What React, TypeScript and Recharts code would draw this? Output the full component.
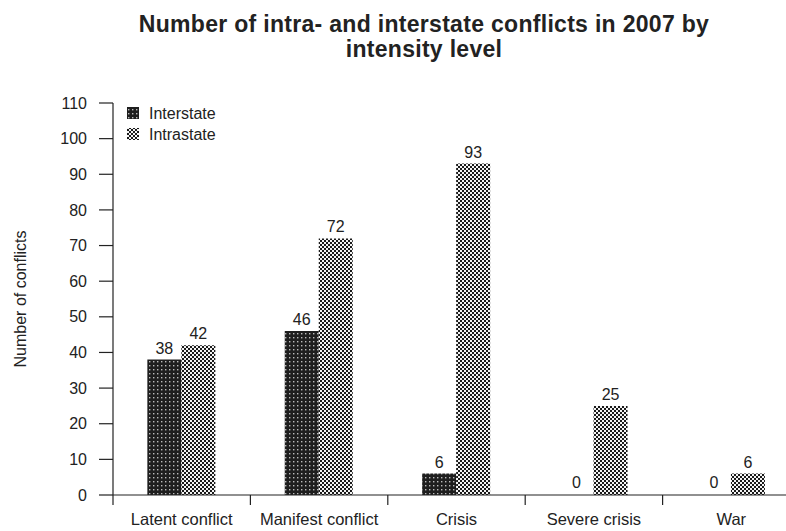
import { BarChart, Bar, XAxis, YAxis, LabelList, Label, Rectangle } from "recharts";

// ─── Data ────────────────────────────────────────

const intensityLevels = ["Latent conflict", "Manifest conflict", "Crisis", "Severe crisis", "War"];
const interstate = [38, 46, 6, 0, 0];
const intrastate = [42, 72, 93, 25, 6];
const yTicks = [0, 10, 20, 30, 40, 50, 60, 70, 80, 90, 100, 110];

const chartData = intensityLevels.map((level, i) => ({
  level,
  interstate: interstate[i],
  intrastate: intrastate[i],
}));

const FONT = "'Liberation Sans', Arial, sans-serif";
const INK = "#222";

// ─── Category tick: label centred, tick mark on the band's left edge ───

function CategoryTick(props: any) {
  const { x, y, payload } = props;
  const half = payload?.offset ?? 68.7;
  return (
    <g>
      <line x1={x - half} x2={x - half} y1={y - 18} y2={y - 8} stroke={INK} strokeWidth={1.2} />
      <text x={x} y={y} dy="0.71em" textAnchor="middle" fontSize={16.5} fill={INK} fontFamily={FONT}>
        {payload.value}
      </text>
    </g>
  );
}

// zero-valued bars keep a 1px slot so their "0" label still shows, but draw nothing
function PatternBar(props: any) {
  if (props.value === 0 || (Array.isArray(props.value) && props.value[1] === 0)) return null;
  return <Rectangle {...props} />;
}

// ─── Legend with pattern swatches ────────────────

function PatternLegend() {
  const items = [
    { label: "Interstate", fill: "url(#interPattern)" },
    { label: "Intrastate", fill: "url(#intraPattern)" },
  ];
  return (
    <svg width={120} height={48} style={{ position: "absolute", left: 127, top: 104 }}>
      {items.map((it, i) => (
        <g key={it.label} transform={`translate(0, ${i * 21})`}>
          <rect x={0} y={3} width={12} height={12} fill={it.fill} />
          <text x={22} y={15} fontSize={16} fill={INK} fontFamily={FONT}>
            {it.label}
          </text>
        </g>
      ))}
    </svg>
  );
}

// ─── Component ───────────────────────────────────

export default function App() {
  return (
    <div
      style={{
        position: "absolute",
        left: 0,
        top: 0,
        width: 786,
        height: 531,
        overflow: "hidden",
        background: "#fff",
        fontFamily: FONT,
      }}
    >
      <div
        style={{
          position: "absolute",
          left: 0,
          top: 12,
          width: 848,
          textAlign: "center",
          fontSize: 23,
          fontWeight: "bold",
          lineHeight: "25px",
          letterSpacing: 0.3,
          color: INK,
        }}
      >
        Number of intra- and interstate conflicts in 2007 by
        <br />
        intensity level
      </div>
      <BarChart
        width={800}
        height={531}
        data={chartData}
        margin={{ top: 103, right: 0, left: 0, bottom: 6 }}
        barCategoryGap="25%"
        barGap={0}
      >
        <defs>
          <pattern id="interPattern" width={4} height={4} patternUnits="userSpaceOnUse">
            <rect width={4} height={4} fill="#1e1e1e" />
            <rect x={1} y={1} width={1.4} height={1.4} fill="#bbb" />
          </pattern>
          <pattern id="intraPattern" width={4} height={4} patternUnits="userSpaceOnUse">
            <rect width={4} height={4} fill="#f4f4f4" />
            <rect x={0} y={0} width={2} height={2} fill="#1a1a1a" />
            <rect x={2} y={2} width={2} height={2} fill="#1a1a1a" />
          </pattern>
        </defs>
        <XAxis
          dataKey="level"
          tickLine={false}
          tickSize={10}
          tickMargin={8}
          height={30}
          axisLine={{ stroke: INK, strokeWidth: 1.2 }}
          tick={<CategoryTick />}
          interval={0}
        />
        <YAxis
          width={113}
          domain={[0, 110]}
          ticks={yTicks}
          tickSize={14}
          tickMargin={12}
          axisLine={{ stroke: INK, strokeWidth: 1.2 }}
          tickLine={{ stroke: INK, strokeWidth: 1.2 }}
          tick={{ fontSize: 16, fill: INK, fontFamily: FONT }}
          interval={0}
        >
          <Label
            value="Number of conflicts"
            angle={-90}
            position="insideLeft"
            offset={20}
            style={{ textAnchor: "middle", fontSize: 16, fill: INK, fontFamily: FONT }}
          />
        </YAxis>
        <Bar
          dataKey="interstate"
          name="Interstate"
          fill="url(#interPattern)"
          minPointSize={1}
          shape={<PatternBar />}
          isAnimationActive={false}
        >
          <LabelList dataKey="interstate" position="top" offset={6} fontSize={16} fill={INK} fontFamily={FONT} />
        </Bar>
        <Bar
          dataKey="intrastate"
          name="Intrastate"
          fill="url(#intraPattern)"
          isAnimationActive={false}
        >
          <LabelList dataKey="intrastate" position="top" offset={6} fontSize={16} fill={INK} fontFamily={FONT} />
        </Bar>
      </BarChart>
      <PatternLegend />
    </div>
  );
}
